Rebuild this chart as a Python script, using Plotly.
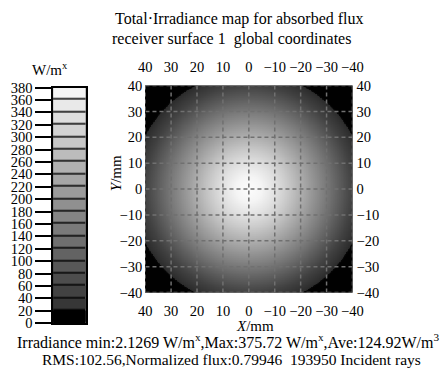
import numpy as np
import plotly.graph_objects as go

W, H = 446, 380

# Radial irradiance profile (radius in mm, irradiance in W/m^2)
profile_r = [0, 5, 10, 15, 20, 25, 30, 35, 40, 43, 44.5, 45.5, 60]
profile_v = [375.72, 362, 330, 290, 245, 200, 155, 108, 62, 40, 28, 2.13, 2.13]

# Axis ticks (mm)
axis_ticks = [40, 30, 20, 10, 0, -10, -20, -30, -40]
axis_ticktext = ["40", "30", "20", "10", "0", "−10", "−20", "−30", "−40"]

# Legend (colour key) levels, W/m^2
legend_levels = list(range(0, 381, 20))

title_lines = ["Total·Irradiance map for absorbed flux",
               "receiver surface 1  global coordinates"]
stats_lines = ["Irradiance min:2.1269 W/m<sup>x</sup>,Max:375.72 W/m<sup>x</sup>,Ave:124.92W/m<sup>3</sup>",
               "RMS:102.56,Normalized flux:0.79946  193950 Incident rays"]

FONT = "Liberation Serif"


def px(x):
    return x / W


def py(y):
    return 1 - y / H


# ---- main map grid ----
xs = np.linspace(-40, 40, 321)
ys = np.linspace(-40, 40, 321)
X, Y = np.meshgrid(xs, ys)
R = np.sqrt(X ** 2 + Y ** 2)
Z = np.interp(R, profile_r, profile_v)

main_scale = [[0.0, "rgb(0,0,0)"], [15 / 380, "rgb(8,8,8)"], [20 / 380, "rgb(40,40,40)"],
              [1.0, "rgb(255,255,255)"]]

# ---- colour key bands ----
n_bands = len(legend_levels) - 1
band_centers = [(legend_levels[i] + legend_levels[i + 1]) / 2 for i in range(n_bands)]
band_gray = [0] + [int(round(55 + (i - 1) * 200 / (n_bands - 1))) for i in range(1, n_bands)]
key_scale = []
for i, g in enumerate(band_gray):
    c = f"rgb({g},{g},{g})"
    key_scale.append([i / n_bands, c])
    key_scale.append([(i + 1) / n_bands, c])

fig = go.Figure()
fig.add_trace(go.Heatmap(x=xs, y=ys, z=Z, zmin=0, zmax=380, colorscale=main_scale,
                         showscale=False, xaxis="x", yaxis="y", hoverinfo="skip"))
fig.add_trace(go.Heatmap(x=[0], y=band_centers, z=[[b] for b in range(n_bands)],
                         zmin=0, zmax=n_bands, colorscale=key_scale, showscale=False,
                         ygap=1.5, xaxis="x2", yaxis="y2", hoverinfo="skip"))
fig.add_trace(go.Scatter(x=[None], y=[None], xaxis="x3", yaxis="y3", showlegend=False,
                         hoverinfo="skip"))

tickfont = dict(family=FONT, size=14.5, color="black")
main_x_dom = [px(144), px(360)]
main_y_dom = [py(297), py(81)]

common = dict(tickvals=axis_ticks, ticktext=axis_ticktext, showgrid=False, zeroline=False,
              ticks="", tickfont=tickfont, showline=False)

fig.update_layout(
    width=W, height=H, margin=dict(l=0, r=0, t=0, b=0),
    paper_bgcolor="white", plot_bgcolor="black", showlegend=False,
    xaxis=dict(domain=main_x_dom, range=[40, -40], anchor="y", ticklabelstandoff=8, **common),
    yaxis=dict(domain=main_y_dom, range=[-40, 40], anchor="x", ticklabelstandoff=2, **common),
    xaxis3=dict(overlaying="x", matches="x", side="top", anchor="y", ticklabelstandoff=10,
                **common),
    yaxis3=dict(overlaying="y", matches="y", side="right", anchor="x", ticklabelstandoff=3,
                **common),
    xaxis2=dict(domain=[px(48), px(82)], range=[-0.5, 0.5], anchor="y2", showticklabels=False,
                showgrid=False, zeroline=False, ticks="", showline=True, mirror=True,
                linecolor="black", linewidth=1.5),
    yaxis2=dict(domain=[py(329), py(83)], range=[0, 380], anchor="x2", tickvals=legend_levels,
                showgrid=False, zeroline=False, ticks="outside", ticklen=16, tickwidth=1.5,
                tickcolor="black", tickfont=dict(family=FONT, size=14.5, color="black"),
                showline=True, mirror=True, linecolor="black", linewidth=1.5),
)

# dashed grid over the map
shapes = []
for t in axis_ticks:
    shapes.append(dict(type="line", xref="x", yref="y", x0=t, x1=t, y0=-40, y1=40,
                       line=dict(color="rgb(112,112,112)", width=1.5, dash="4px,3px"),
                       layer="above"))
    shapes.append(dict(type="line", xref="x", yref="y", x0=-40, x1=40, y0=t, y1=t,
                       line=dict(color="rgb(112,112,112)", width=1.5, dash="4px,3px"),
                       layer="above"))
fig.update_layout(shapes=shapes)

ann = []


def text(s, x, y, size=14, **kw):
    ann.append(dict(text=s, x=px(x), y=py(y), xref="paper", yref="paper", showarrow=False,
                    xanchor="center", yanchor="middle",
                    font=dict(family=FONT, size=size, color="black"), **kw))


text(title_lines[0], 242, 12, size=16)
text(title_lines[1], 234, 32, size=16)
text("W/m<sup>x</sup>", 45, 64, size=15)
text("<i>Y</i>/mm", 113, 172, size=15, textangle=-90)
text("<i>X</i>/mm", 258, 332, size=15)
text(stats_lines[0], 230, 348, size=16)
text(stats_lines[1], 234, 367, size=15.5)
fig.update_layout(annotations=ann)

fig.write_html("out.html")
